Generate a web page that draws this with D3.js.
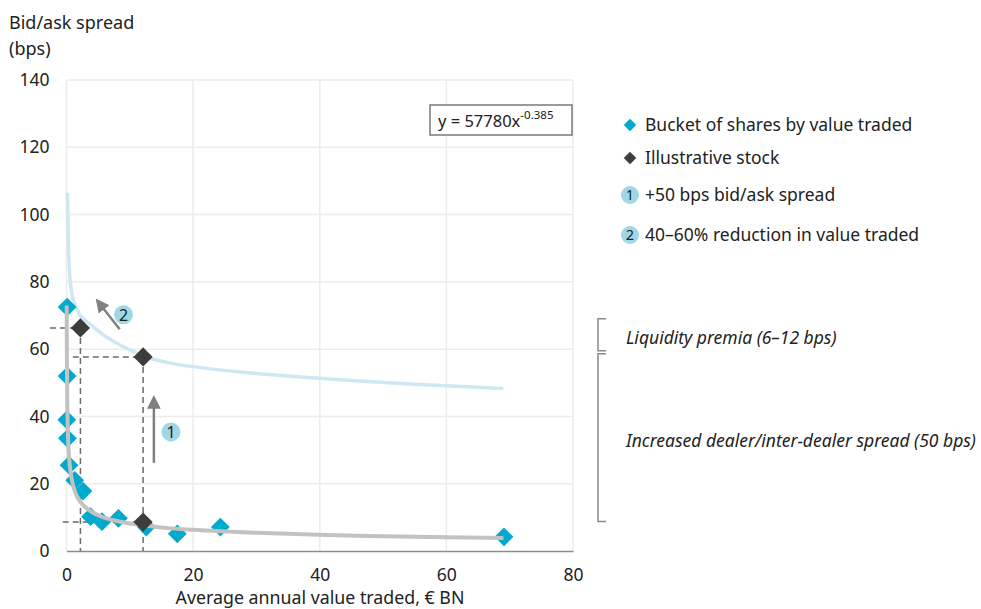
<!DOCTYPE html>
<html>
<head>
<meta charset="utf-8">
<script src="https://cdn.jsdelivr.net/npm/d3@7"></script>
<style>
  body { margin: 0; background: #fff; }
  text { font-family: "Noto Sans", "Open Sans", sans-serif; fill: #222; }
</style>
</head>
<body>
<div id="chart"></div>
<script>
const WIDTH = 981, HEIGHT = 609;
const MARGIN = { TOP: 80, RIGHT: 408, BOTTOM: 58, LEFT: 66.5 };

// buckets of shares (x = € BN traded, y = bps)
const bucketX = [0.1, 0.1, 0.05, 0.15, 0.4, 1.3, 2.6, 3.8, 5.6, 8.2, 12.6, 17.5, 24.3, 69.1];
const bucketY = [72.5, 52, 39, 33.5, 25.5, 21, 17.8, 10.2, 8.7, 9.7, 7.1, 5.1, 7.1, 4.2];

// illustrative stock
const stockX = [2.2, 12.1, 12.1];
const stockY = [66.3, 57.7, 8.6];

// fitted trend line (grey)
const trendX = [0.03, 0.06, 0.1, 0.2, 0.4, 0.7, 1, 1.5, 2.2, 3, 4, 6, 8, 10, 12, 16, 20, 30, 40, 50, 60, 69];
const trendY = [73, 58.4, 48, 36.8, 28.2, 22.8, 19.8, 16.9, 14.6, 13, 11.6, 9.9, 8.9, 8.2, 7.7, 6.8, 6.3, 5.4, 4.8, 4.4, 4.1, 3.9];

// shifted curve (light blue)
const shiftX = [0.15, 0.2, 0.3, 0.45, 0.8, 1.2, 2, 3, 4, 6, 8, 10, 12.1, 16, 20, 27, 35, 45, 55, 69];
const shiftY = [106.5, 100, 91, 84, 77, 74, 70.5, 68.5, 67, 64, 61.7, 59.8, 58, 56, 54.8, 53.3, 52, 50.7, 49.6, 48.3];

// dashed guide lines [x1, y1, x2, y2]
const guides = [
    [-2.6, 66.3, 2.2, 66.3],
    [2.2, 66.3, 2.2, 0],
    [1, 57.7, 12.1, 57.7],
    [12.1, 57.7, 12.1, 0],
    [-0.6, 8.6, 12.1, 8.6]
];

// annotation arrows [x1, y1, x2, y2] and numbered badges
const arrows = [[13.8, 26.2, 13.8, 47.3], [8.4, 65.9, 5.0, 74.1]];
const badgeX = [16.5, 9.0];
const badgeY = [35.4, 70.2];
const badgeLabels = ["1", "2"];

const xTicks = [0, 20, 40, 60, 80];
const yTicks = [0, 20, 40, 60, 80, 100, 120, 140];

const legendLabels = ["Bucket of shares by value traded", "Illustrative stock", "+50 bps bid/ask spread", "40\u201360% reduction in value traded"];
const bracketLabels = ["Liquidity premia (6\u201312 bps)", "Increased dealer/inter-dealer spread (50 bps)"];
const bracketRanges = [[59.5, 69], [8.8, 58.6]];

const COLORS = { bucket: "#00a9ce", stock: "#3d3d3d", trend: "#c2c2c2", shift: "#cde8f1", badge: "#9fd7e7", dash: "#6a6a6a", arrow: "#808080" };

const svg = d3.select("#chart").append("svg")
    .attr("width", WIDTH)
    .attr("height", HEIGHT);

const xScale = d3.scaleLinear().domain([0, 80]).range([MARGIN.LEFT, WIDTH - MARGIN.RIGHT]);
const yScale = d3.scaleLinear().domain([0, 140]).range([HEIGHT - MARGIN.BOTTOM, MARGIN.TOP]);

// Grid
svg.append("g")
    .selectAll("line.vg")
    .data(xTicks)
    .join("line")
    .attr("x1", d => xScale(d)).attr("x2", d => xScale(d))
    .attr("y1", yScale(0)).attr("y2", yScale(140))
    .attr("stroke", "#ececec").attr("stroke-width", 1.5);

svg.append("g")
    .selectAll("line.hg")
    .data(yTicks.slice(1))
    .join("line")
    .attr("x1", xScale(0)).attr("x2", xScale(80))
    .attr("y1", d => yScale(d)).attr("y2", d => yScale(d))
    .attr("stroke", "#ececec").attr("stroke-width", 1.5);

// Axes
const xAxis = svg.append("g")
    .attr("transform", `translate(0, ${yScale(0)})`)
    .call(d3.axisBottom(xScale).tickValues(xTicks).tickSize(0).tickPadding(18));
xAxis.select(".domain").attr("stroke", "#8c8c8c").attr("stroke-width", 1.5);
xAxis.selectAll("text").style("font-size", "17.5px").attr("fill", "#222");

const yAxis = svg.append("g")
    .attr("transform", `translate(${xScale(0) - 14}, 0)`)
    .call(d3.axisLeft(yScale).tickValues(yTicks).tickSize(0));
yAxis.select(".domain").remove();
yAxis.selectAll("text").style("font-size", "17.5px").attr("fill", "#222");

// Axis titles
svg.append("text").attr("x", 9).attr("y", 29).style("font-size", "18px").text("Bid/ask spread");
svg.append("text").attr("x", 9).attr("y", 55).style("font-size", "18px").text("(bps)");
svg.append("text")
    .attr("x", 320).attr("y", 604)
    .attr("text-anchor", "middle")
    .style("font-size", "17.8px")
    .text("Average annual value traded, \u20ac BN");

// Curves
const line = d3.line()
    .x(d => xScale(d[0]))
    .y(d => yScale(d[1]))
    .curve(d3.curveMonotoneX);

svg.append("path")
    .datum(d3.zip(shiftX, shiftY))
    .attr("fill", "none")
    .attr("stroke", COLORS.shift)
    .attr("stroke-width", 3.5)
    .attr("d", line);

// Dashed guides
svg.append("g")
    .selectAll("line")
    .data(guides)
    .join("line")
    .attr("x1", d => xScale(d[0])).attr("y1", d => yScale(d[1]))
    .attr("x2", d => xScale(d[2])).attr("y2", d => yScale(d[3]))
    .attr("stroke", COLORS.dash)
    .attr("stroke-width", 1.5)
    .attr("stroke-dasharray", "6,4");

const diamond = d3.symbol().type(d3.symbolDiamond2);

// Buckets
svg.append("g")
    .selectAll("path")
    .data(d3.zip(bucketX, bucketY))
    .join("path")
    .attr("transform", d => `translate(${xScale(d[0])}, ${yScale(d[1])})`)
    .attr("d", diamond.size(225)())
    .attr("fill", COLORS.bucket);

svg.append("path")
    .datum(d3.zip(trendX, trendY))
    .attr("fill", "none")
    .attr("stroke", COLORS.trend)
    .attr("stroke-width", 4)
    .attr("d", line);

// Illustrative stock
svg.append("g")
    .selectAll("path")
    .data(d3.zip(stockX, stockY))
    .join("path")
    .attr("transform", d => `translate(${xScale(d[0])}, ${yScale(d[1])})`)
    .attr("d", diamond.size(235)())
    .attr("fill", COLORS.stock);

// Arrows
svg.append("defs").append("marker")
    .attr("id", "head")
    .attr("viewBox", "0 0 10 10")
    .attr("refX", 2).attr("refY", 5)
    .attr("markerWidth", 5.5).attr("markerHeight", 5.5)
    .attr("orient", "auto")
    .append("path")
    .attr("d", "M0,0 L10,5 L0,10 Z")
    .attr("fill", COLORS.arrow);

svg.append("g")
    .selectAll("line")
    .data(arrows)
    .join("line")
    .attr("x1", d => xScale(d[0])).attr("y1", d => yScale(d[1]))
    .attr("x2", d => xScale(d[0]) + (xScale(d[2]) - xScale(d[0])) * 0.8)
    .attr("y2", d => yScale(d[1]) + (yScale(d[3]) - yScale(d[1])) * 0.8)
    .attr("stroke", COLORS.arrow)
    .attr("stroke-width", 2.5)
    .attr("marker-end", "url(#head)");

// Badges on plot
const badges = svg.append("g")
    .selectAll("g")
    .data(d3.zip(badgeX, badgeY, badgeLabels))
    .join("g")
    .attr("transform", d => `translate(${xScale(d[0])}, ${yScale(d[1])})`);
badges.append("circle").attr("r", 9.5).attr("fill", COLORS.badge);
badges.append("text")
    .attr("text-anchor", "middle").attr("dy", "0.36em")
    .style("font-size", "16px")
    .text(d => d[2]);

// Equation box
const eq = svg.append("g").attr("transform", "translate(430, 105)");
eq.append("rect").attr("width", 142).attr("height", 30)
    .attr("fill", "#fff").attr("stroke", "#7a7a7a").attr("stroke-width", 1.5);
const eqText = eq.append("text").attr("x", 8).attr("y", 22).style("font-size", "16.5px");
eqText.append("tspan").text("y = 57780x");
eqText.append("tspan").attr("dy", -8).style("font-size", "11.5px").text("-0.385");

// Legend
const legendY = [125, 158, 195, 235];
const legend = svg.append("g")
    .selectAll("g")
    .data(legendLabels)
    .join("g")
    .attr("transform", (d, i) => `translate(630, ${legendY[i]})`);

legend.filter((d, i) => i < 2)
    .append("path")
    .attr("d", diamond.size(100)())
    .attr("fill", (d, i) => i === 0 ? COLORS.bucket : COLORS.stock);

legend.filter((d, i) => i >= 2)
    .append("circle").attr("r", 9).attr("fill", COLORS.badge);
legend.filter((d, i) => i >= 2)
    .append("text")
    .attr("text-anchor", "middle").attr("dy", "0.36em")
    .style("font-size", "14.5px")
    .text((d, i) => badgeLabels[i]);

legend.append("text")
    .attr("x", 15).attr("dy", "0.36em")
    .style("font-size", "17.5px")
    .text(d => d);

// Brackets
const brackets = svg.append("g")
    .selectAll("g")
    .data(d3.zip(bracketRanges, bracketLabels))
    .join("g");

brackets.append("path")
    .attr("d", d => `M606,${yScale(d[0][1])} H598 V${yScale(d[0][0])} H606`)
    .attr("fill", "none")
    .attr("stroke", "#8a8a8a")
    .attr("stroke-width", 1.5);

brackets.append("text")
    .attr("x", 626)
    .attr("y", d => (yScale(d[0][0]) + yScale(d[0][1])) / 2 + 3)
    .attr("dy", "0.36em")
    .style("font-size", "17.5px")
    .style("font-style", "italic")
    .text(d => d[1]);
</script>
</body>
</html>
